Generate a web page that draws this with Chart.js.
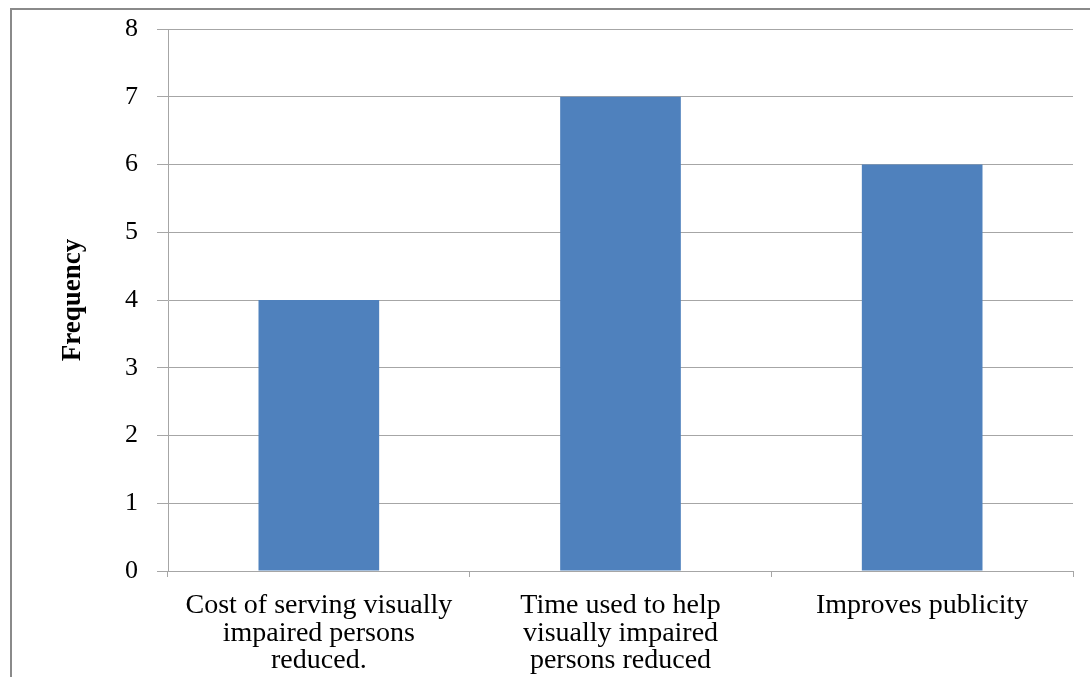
<!DOCTYPE html>
<html>
<head>
<meta charset="utf-8">
<script src="https://cdn.jsdelivr.net/npm/chart.js@4/dist/chart.umd.min.js"></script>
<style>
  html, body { margin: 0; padding: 0; background: #fff; }
  #wrap { position: relative; width: 1090px; height: 677px; overflow: hidden; }
  #frame { position: absolute; left: 10px; top: 8px; width: 1200px; height: 800px;
           border: 2px solid #8a8a8a; box-sizing: border-box; }
  canvas { position: absolute; left: 0; top: 0; }
</style>
</head>
<body>
<div id="wrap">
  <div id="frame"></div>
  <canvas id="c" width="1090" height="677"></canvas>
</div>
<script>
// Categories (wrapped onto several lines) and their frequencies
const categories = [
  ["Cost of serving visually", "impaired persons", "reduced."],
  ["Time used to help", "visually impaired", "persons reduced"],
  ["Improves publicity"]
];
const frequencies = [4, 7, 6];
const yTicks = [0, 1, 2, 3, 4, 5, 6, 7, 8];

const serif = "'Liberation Serif', 'Times New Roman', serif";
const axisGrey = '#a6a6a6';

new Chart(document.getElementById('c'), {
  type: 'bar',
  data: {
    labels: categories,
    datasets: [{
      data: frequencies,
      backgroundColor: '#4f81bd',
      borderWidth: 0,
      barPercentage: 0.4,
      categoryPercentage: 1.0
    }]
  },
  options: {
    responsive: false,
    animation: false,
    devicePixelRatio: 1,
    layout: { padding: { top: 29, right: 17, bottom: 0, left: 0 } },
    plugins: { legend: { display: false }, tooltip: { enabled: false } },
    scales: {
      x: {
        offset: true,
        grid: {
          offset: true,
          drawOnChartArea: false,
          color: axisGrey,
          tickLength: 6,
          lineWidth: 1
        },
        border: { color: axisGrey, width: 1 },
        ticks: {
          color: '#000',
          padding: 15,
          maxRotation: 0,
          autoSkip: false,
          font: { family: serif, size: 28, lineHeight: 0.98 }
        },
        afterFit: (s) => { s.height = 106; s.paddingLeft = 0; s.paddingRight = 0; }
      },
      y: {
        min: 0,
        max: 8,
        afterBuildTicks: (s) => { s.ticks = yTicks.map(v => ({ value: v })); },
        grid: { color: axisGrey, tickLength: 11, lineWidth: 1 },
        border: { color: axisGrey, width: 1 },
        ticks: {
          color: '#000',
          padding: 19,
          font: { family: serif, size: 26 }
        },
        title: {
          display: true,
          text: 'Frequency',
          color: '#000',
          padding: { top: 57, bottom: 0 },
          font: { family: serif, size: 27, weight: 'bold' }
        },
        afterFit: (s) => { s.width = 168; s.paddingTop = 0; s.paddingBottom = 0; }
      }
    }
  }
});
</script>
</body>
</html>
